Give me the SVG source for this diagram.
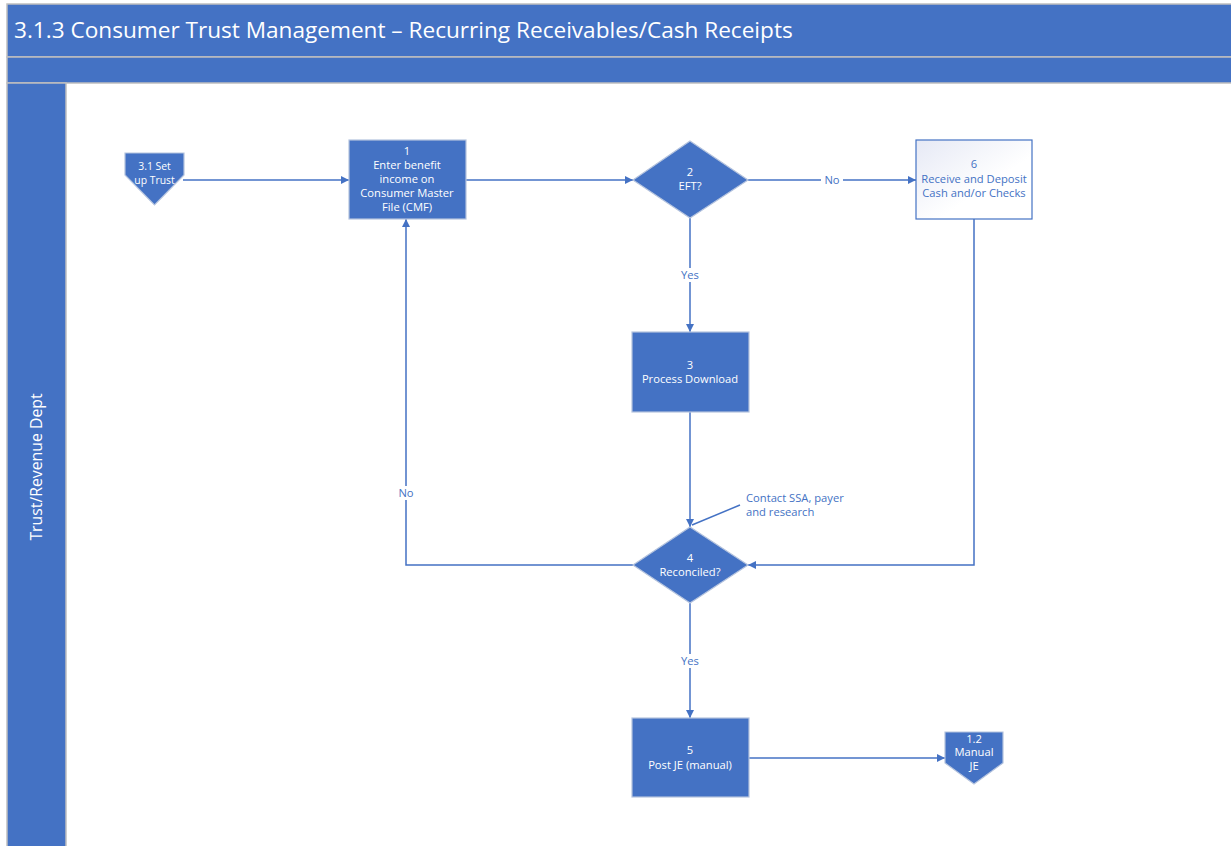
<svg xmlns="http://www.w3.org/2000/svg" width="1231" height="846" viewBox="0 0 1231 846">
  <defs>
    <style>
      .band { fill: #4472C4; stroke: #BFBFBF; stroke-width: 1.5; }
      .box { fill: #4472C4; stroke: #B4C3DE; stroke-width: 1.2; }
      .lt { fill: #FFFFFF; font-family: "Open Sans", "Noto Sans", sans-serif; font-size: 11.2px; text-anchor: middle; }
      .sm { font-size: 10.4px; }
      .dk { fill: #4472C4; font-family: "Open Sans", "Noto Sans", sans-serif; font-size: 11.2px; text-anchor: middle; }
      .edge { fill: none; stroke: #4472C4; stroke-width: 1.5; }
      .lbl { fill: #4472C4; font-family: "Open Sans", "Noto Sans", sans-serif; font-size: 11.2px; text-anchor: middle; }
      .note { fill: #4472C4; font-family: "Open Sans", "Noto Sans", sans-serif; font-size: 11.2px; text-anchor: start; }
    </style>
    <linearGradient id="paleFill" x1="0" y1="0" x2="1" y2="1">
      <stop offset="0" stop-color="#E6E9F5"/>
      <stop offset="0.6" stop-color="#FFFFFF"/>
      <stop offset="1" stop-color="#FFFFFF"/>
    </linearGradient>
    <marker id="arrow" viewBox="0 0 10 10" refX="10" refY="5" markerWidth="8" markerHeight="8" markerUnits="userSpaceOnUse" orient="auto">
      <path d="M0,0 L10,5 L0,10 Z" fill="#4472C4"/>
    </marker>
  </defs>

  <rect width="1231" height="846" fill="#FFFFFF"/>

  <!-- pool header and lane -->
  <g id="pool">
    <rect class="band" x="7" y="4" width="1226" height="53"/>
    <text x="14" y="38" fill="#FFFFFF" font-family="'Open Sans', 'Noto Sans', sans-serif" font-size="22.6px">3.1.3 Consumer Trust Management – Recurring Receivables/Cash Receipts</text>
    <rect class="band" x="7" y="57" width="1226" height="26"/>
    <rect class="band" x="7" y="83" width="59" height="765"/>
    <text transform="translate(42,467) rotate(-90)" fill="#FFFFFF" font-family="'Open Sans', 'Noto Sans', sans-serif" font-size="15.8px" text-anchor="middle">Trust/Revenue Dept</text>
  </g>

  <!-- connectors -->
  <g id="connectors">
    <path class="edge" d="M183,180 H349" marker-end="url(#arrow)"/>
    <path class="edge" d="M466,180 H633" marker-end="url(#arrow)"/>
    <path class="edge" d="M748,180 H916" marker-end="url(#arrow)"/>
    <path class="edge" d="M690,218 V332" marker-end="url(#arrow)"/>
    <path class="edge" d="M690,412 V527" marker-end="url(#arrow)"/>
    <path class="edge" d="M974,219 V565 H748" marker-end="url(#arrow)"/>
    <path class="edge" d="M633,565 H406 V219" marker-end="url(#arrow)"/>
    <path class="edge" d="M690,603 V718" marker-end="url(#arrow)"/>
    <path class="edge" d="M749,758 H945" marker-end="url(#arrow)"/>
    <path class="edge" d="M692,525 L740,505"/>
    <!-- labels -->
    <rect x="821" y="173" width="22" height="13" fill="#FFFFFF"/>
    <text class="lbl" x="832" y="184">No</text>
    <rect x="677" y="268" width="26" height="14" fill="#FFFFFF"/>
    <text class="lbl" x="690" y="279">Yes</text>
    <rect x="395" y="486" width="22" height="14" fill="#FFFFFF"/>
    <text class="lbl" x="406" y="497">No</text>
    <rect x="677" y="654" width="26" height="14" fill="#FFFFFF"/>
    <text class="lbl" x="690" y="665">Yes</text>
    <text class="note" x="746" y="502">Contact SSA, payer</text>
    <text class="note" x="746" y="516">and research</text>
  </g>

  <g id="ref-3-1">
    <path class="box" d="M125,153 H184 V175 L154.5,205 L125,175 Z"/>
    <text class="lt sm" x="154.5" y="170">3.1 Set</text>
    <text class="lt sm" x="154.5" y="184">up Trust</text>
  </g>

  <g id="step-1">
    <rect class="box" x="349" y="140" width="117" height="79"/>
    <text class="lt" x="407" y="155">1</text>
    <text class="lt" x="407" y="169">Enter benefit</text>
    <text class="lt" x="407" y="183">income on</text>
    <text class="lt" x="407" y="197">Consumer Master</text>
    <text class="lt" x="407" y="211">File (CMF)</text>
  </g>

  <g id="decision-2">
    <path class="box" d="M690,141 L748,180 L690,218 L633,180 Z"/>
    <text class="lt" x="690" y="176">2</text>
    <text class="lt" x="690" y="190">EFT?</text>
  </g>

  <g id="step-6">
    <rect x="916" y="140" width="116" height="79" fill="url(#paleFill)" stroke="#4472C4" stroke-width="1.2"/>
    <text class="dk" x="974" y="168">6</text>
    <text class="dk" x="974" y="183">Receive and Deposit</text>
    <text class="dk" x="974" y="197">Cash and/or Checks</text>
  </g>

  <g id="step-3">
    <rect class="box" x="632" y="332" width="117" height="80"/>
    <text class="lt" x="690" y="369">3</text>
    <text class="lt" x="690" y="383">Process Download</text>
  </g>

  <g id="decision-4">
    <path class="box" d="M690,527 L748,565 L690,603 L633,565 Z"/>
    <text class="lt" x="690" y="562">4</text>
    <text class="lt" x="690" y="576">Reconciled?</text>
  </g>

  <g id="step-5">
    <rect class="box" x="632" y="718" width="117" height="79"/>
    <text class="lt" x="690" y="754">5</text>
    <text class="lt" x="690" y="769">Post JE (manual)</text>
  </g>

  <g id="ref-1-2">
    <path class="box" d="M945,732 H1003 V763 L974,784 L945,763 Z"/>
    <text class="lt" x="974" y="743">1.2</text>
    <text class="lt" x="974" y="756">Manual</text>
    <text class="lt" x="974" y="770">JE</text>
  </g>
</svg>
